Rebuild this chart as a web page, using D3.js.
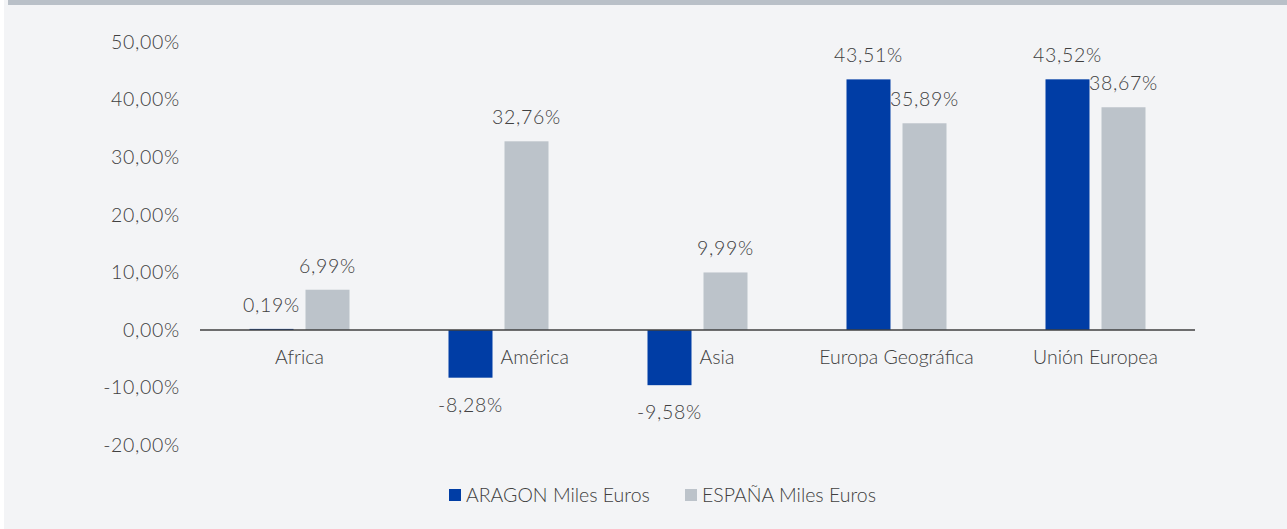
<!DOCTYPE html>
<html>
<head>
<meta charset="utf-8">
<script src="https://cdn.jsdelivr.net/npm/d3@7"></script>
<style>
    html, body { margin: 0; padding: 0; background: #ffffff; }
    svg { display: block; }
    text { font-family: "Lato", "Noto Sans", sans-serif; font-weight: 300; fill: #404040; }
    .num { letter-spacing: 0.7px; }
</style>
</head>
<body>
<div id="chart"></div>
<script>
// Data
const categories = ['Africa', 'América', 'Asia', 'Europa Geográfica', 'Unión Europea'];
const seriesNames = ['ARAGON Miles Euros', 'ESPAÑA Miles Euros'];
const aragon = [0.19, -8.28, -9.58, 43.51, 43.52];
const espana = [6.99, 32.76, 9.99, 35.89, 38.67];
const yTicks = [50, 40, 30, 20, 10, 0, -10, -20];

// Configuration
const config = {
    width: 1287,
    height: 529,
    colors: ['#003da5', '#bcc3ca'],
    barWidth: 44,
    barGap: 12,
    fontSize: 19.5
};

// Spanish style: comma decimal, plain hyphen for negatives
const locale = d3.formatLocale({ decimal: ',', thousands: '.', grouping: [3], currency: ['', '€'], minus: '-' });
const fmt = v => locale.format('.2f')(v) + '%';

const svg = d3.select('#chart')
    .append('svg')
    .attr('width', config.width)
    .attr('height', config.height);

// Background and top band
svg.append('rect')
    .attr('x', 4).attr('y', 0)
    .attr('width', config.width - 4).attr('height', config.height)
    .attr('fill', '#f3f4f6');
svg.append('rect')
    .attr('x', 8).attr('y', 0)
    .attr('width', config.width - 8).attr('height', 5)
    .attr('fill', '#b9c0c8');

// Scales
const x = d3.scaleBand()
    .domain(categories)
    .range([200, 1195]);

const y = d3.scaleLinear()
    .domain([-20, 50])
    .range([445.2, 42]);

// Y axis labels
const yAxis = d3.axisLeft(y)
    .tickValues(yTicks)
    .tickSize(0)
    .tickPadding(0)
    .tickFormat(fmt);

svg.append('g')
    .attr('transform', 'translate(180,0)')
    .call(yAxis)
    .call(g => g.select('.domain').remove())
    .selectAll('text')
    .attr('class', 'num')
    .attr('font-size', config.fontSize)
    .attr('fill', '#404040')
    .style('font-family', '"Lato", "Noto Sans", sans-serif')
    .style('font-weight', 300);

// Bars
const series = [aragon, espana];
const groupWidth = config.barWidth * 2 + config.barGap;

series.forEach((values, si) => {
    const offset = si * (config.barWidth + config.barGap) - groupWidth / 2;
    const g = svg.append('g').attr('class', 'series-' + si);

    g.selectAll('rect')
        .data(categories)
        .enter().append('rect')
        .attr('x', (c) => x(c) + x.bandwidth() / 2 + offset)
        .attr('y', (c, i) => y(Math.max(0, values[i])))
        .attr('width', config.barWidth)
        .attr('height', (c, i) => Math.abs(y(values[i]) - y(0)))
        .attr('fill', config.colors[si]);

    g.selectAll('text')
        .data(categories)
        .enter().append('text')
        .attr('class', 'num')
        .attr('x', (c) => x(c) + x.bandwidth() / 2 + offset + config.barWidth / 2)
        .attr('y', (c, i) => values[i] >= 0 ? y(values[i]) - 24 : y(values[i]) + 27)
        .attr('dy', '0.35em')
        .attr('text-anchor', 'middle')
        .attr('font-size', config.fontSize)
        .text((c, i) => fmt(values[i]));
});

// Zero line
svg.append('line')
    .attr('x1', 200).attr('x2', 1195)
    .attr('y1', y(0)).attr('y2', y(0))
    .attr('stroke', '#404040')
    .attr('stroke-width', 1.5);

// Category labels (shifted right when the first bar hangs below zero)
svg.append('g')
    .selectAll('text')
    .data(categories)
    .enter().append('text')
    .attr('x', (c, i) => aragon[i] < 0
        ? x(c) + x.bandwidth() / 2 - groupWidth / 2 + config.barWidth + 8
        : x(c) + x.bandwidth() / 2)
    .attr('y', 357)
    .attr('dy', '0.35em')
    .attr('text-anchor', (c, i) => aragon[i] < 0 ? 'start' : 'middle')
    .attr('font-size', config.fontSize)
    .text(c => c);

// Legend
const legend = svg.append('g').attr('transform', 'translate(449,495)');
const legendX = [0, 236];
seriesNames.forEach((name, i) => {
    legend.append('rect')
        .attr('x', legendX[i]).attr('y', -6)
        .attr('width', 12).attr('height', 12)
        .attr('fill', config.colors[i]);
    legend.append('text')
        .attr('x', legendX[i] + 17).attr('y', 0)
        .attr('dy', '0.35em')
        .attr('font-size', config.fontSize)
        .text(name);
});
</script>
</body>
</html>
